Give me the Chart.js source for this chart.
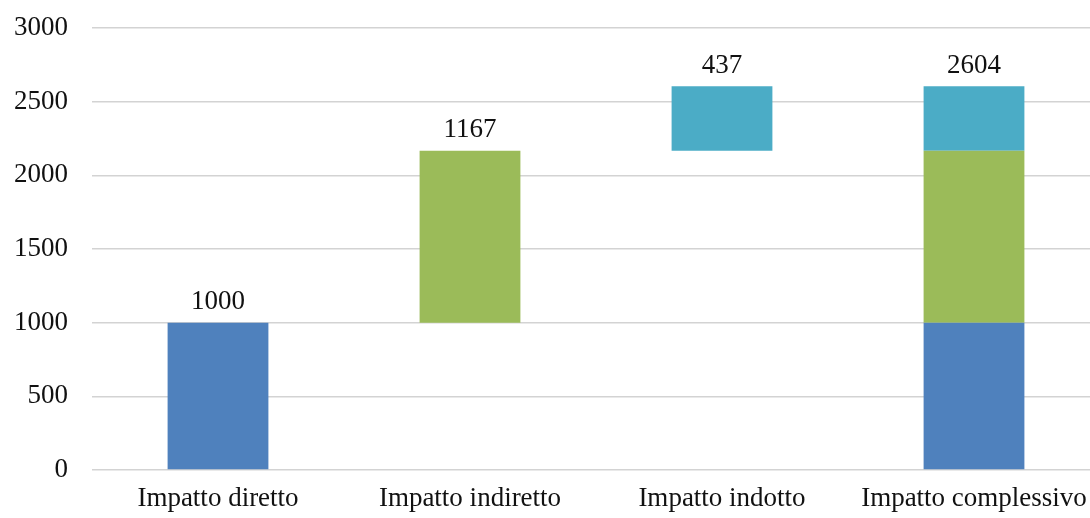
<!DOCTYPE html>
<html lang="it">
<head>
<meta charset="utf-8">
<title>Impatto economico</title>
<script src="https://cdn.jsdelivr.net/npm/chart.js@4/dist/chart.umd.min.js"></script>
<style>
    html, body { margin: 0; padding: 0; background: #fff; overflow: hidden; }
    #wrap { width: 1100px; height: 518px; }
</style>
</head>
<body>
<div id="wrap"><canvas id="impactChart" width="1100" height="518"></canvas></div>
<script>
// Waterfall: direct -> indirect -> induced -> total
const categories = ['Impatto diretto', 'Impatto indiretto', 'Impatto indotto', 'Impatto complessivo'];
const diretto = 1000;
const indiretto = 1167;
const indotto = 437;
const yTicks = [0, 500, 1000, 1500, 2000, 2500, 3000];

const totale = diretto + indiretto + indotto;
const valueLabels = [diretto, indiretto, indotto, totale];
const labelTops = [diretto, diretto + indiretto, totale, totale];

const serif = '"Liberation Serif", "Times New Roman", serif';
const fontSize = 27;

// value labels above each column
const valueLabelPlugin = {
    id: 'valueLabels',
    afterDatasetsDraw(chart) {
        const { ctx, scales } = chart;
        ctx.save();
        ctx.font = fontSize + 'px ' + serif;
        ctx.fillStyle = '#111';
        ctx.textAlign = 'center';
        ctx.textBaseline = 'bottom';
        valueLabels.forEach((v, i) => {
            const x = scales.x.getPixelForValue(i);
            const y = scales.y.getPixelForValue(labelTops[i]);
            ctx.fillText(String(v), x, y - 7);
        });
        ctx.restore();
    }
};

new Chart(document.getElementById('impactChart'), {
    type: 'bar',
    data: {
        labels: categories,
        datasets: [
            {
                label: 'Diretto',
                data: [[0, diretto], null, null, [0, diretto]],
                backgroundColor: '#4f81bd'
            },
            {
                label: 'Indiretto',
                data: [null, [diretto, diretto + indiretto], null, [diretto, diretto + indiretto]],
                backgroundColor: '#9bbb59'
            },
            {
                label: 'Indotto',
                data: [null, null, [diretto + indiretto, totale], [diretto + indiretto, totale]],
                backgroundColor: '#4bacc6'
            }
        ]
    },
    options: {
        responsive: false,
        animation: false,
        layout: { padding: { top: 28, right: 0, bottom: 0, left: 0 } },
        datasets: { bar: { barPercentage: 0.4, categoryPercentage: 1.0 } },
        plugins: { legend: { display: false }, tooltip: { enabled: false } },
        scales: {
            x: {
                stacked: true,
                grid: { display: false },
                border: { display: false },
                ticks: { color: '#111', font: { family: serif, size: fontSize }, padding: 5, maxRotation: 0 },
                afterFit: (s) => { s.height = 48; s.paddingLeft = 0; s.paddingRight = 0; }
            },
            y: {
                stacked: false,
                min: 0,
                max: 3000,
                afterBuildTicks: (s) => { s.ticks = yTicks.map(v => ({ value: v })); },
                grid: { color: '#d3d3d3', lineWidth: 1.5, drawTicks: false },
                border: { display: false },
                ticks: {
                    color: '#111',
                    font: { family: serif, size: fontSize },
                    padding: 24,
                    callback: (v) => String(v)
                },
                afterFit: (s) => { s.width = 92; s.paddingTop = 0; s.paddingBottom = 0; }
            }
        }
    },
    plugins: [valueLabelPlugin]
});
</script>
</body>
</html>
